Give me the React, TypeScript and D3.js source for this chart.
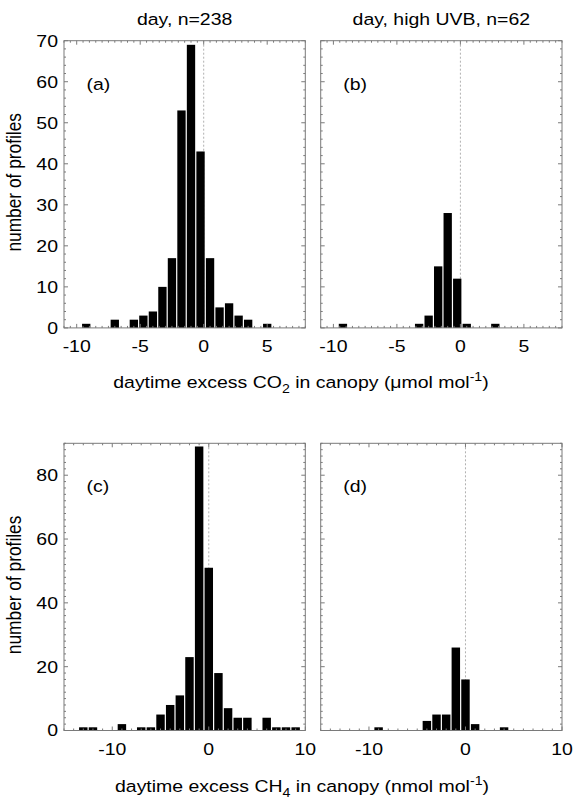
import React from "react";
import * as d3 from "d3";

// ---------- data ----------
const co2BinCenters = [-9.25, -8.5, -7.75, -7.0, -6.25, -5.5, -4.75, -4.0, -3.25, -2.5, -1.75, -1.0, -0.25, 0.5, 1.25, 2.0, 2.75, 3.5, 4.25, 5.0];
const co2BinWidth = 0.75;
const co2CountsDay = [1, 0, 0, 2, 0, 2, 3, 4, 10, 17, 53, 69, 43, 17, 5, 6, 3, 2, 0, 1];
const co2CountsUVB = [1, 0, 0, 0, 0, 0, 0, 0, 1, 3, 15, 28, 12, 1, 0, 0, 1, 0, 0, 0];

const ch4BinCenters = [-13, -12, -11, -10, -9, -8, -7, -6, -5, -4, -3, -2, -1, 0, 1, 2, 3, 4, 5, 6, 7, 8, 9];
const ch4BinWidth = 1;
const ch4CountsDay = [1, 1, 0, 0, 2, 0, 1, 1, 5, 8, 11, 23, 89, 51, 18, 7, 4, 4, 0, 4, 1, 1, 1];
const ch4CountsUVB = [0, 0, 0, 0, 1, 0, 0, 0, 0, 3, 5, 5, 26, 16, 2, 0, 0, 1, 0, 0, 0, 0, 0];

const co2XTicks = [-10, -5, 0, 5];
const co2YTicks = [0, 10, 20, 30, 40, 50, 60, 70];
const ch4XTicks = [-10, 0, 10];
const ch4YTicks = [0, 20, 40, 60, 80];

const titles = ["day, n=238", "day, high UVB, n=62"];
const panelLetters = ["(a)", "(b)", "(c)", "(d)"];

// ---------- layout ----------
const W = 576;
const H = 803;
const FONT = "'Liberation Sans', Arial, Helvetica, sans-serif";
const FS = 16.5;
const SX = 1.18;
const FRAME = "#7a7a7a";
const colX = [64, 320.7];
const colW = 241.3;
const rowY = [40.7, 443.3];
const rowH = 287.2;

type TProps = { x: number; y: number; anchor?: "start" | "middle" | "end"; size?: number; dy?: string; children: React.ReactNode };
function T({ x, y, anchor = "start", size = FS, dy, children }: TProps) {
  return (
    <text transform={`translate(${x},${y}) scale(${SX},1)`} dy={dy} textAnchor={anchor} fontSize={size} fontFamily={FONT} fill="#000">
      {children}
    </text>
  );
}

type PanelProps = {
  x0: number;
  y0: number;
  xDomain: [number, number];
  yDomain: [number, number];
  centers: number[];
  width: number;
  counts: number[];
  xTicks: number[];
  yTicks: number[];
  xMinorStep: number;
  yMinorStep: number;
  showYLabels: boolean;
  letter: string;
};

function Panel(p: PanelProps) {
  const x = d3.scaleLinear().domain(p.xDomain).range([p.x0, p.x0 + colW]);
  const y = d3.scaleLinear().domain(p.yDomain).range([p.y0 + rowH, p.y0]);
  const bottom = p.y0 + rowH;
  const right = p.x0 + colW;

  const xMinor = d3.range(Math.ceil(p.xDomain[0] / p.xMinorStep) * p.xMinorStep, p.xDomain[1] + 1e-9, p.xMinorStep);
  const yMinor = d3.range(p.yDomain[0], p.yDomain[1] + 1e-9, p.yMinorStep);
  const isMajorX = (v: number) => p.xTicks.some((t) => Math.abs(t - v) < 1e-6);
  const isMajorY = (v: number) => p.yTicks.some((t) => Math.abs(t - v) < 1e-6);

  return (
    <g>
      <line x1={x(0)} x2={x(0)} y1={p.y0} y2={bottom} stroke="#b0b0b0" strokeWidth={1} strokeDasharray="2,2" />
      {p.counts.map((c, i) =>
        c > 0 ? (
          <rect
            key={i}
            x={x(p.centers[i] - p.width / 2) + 0.6}
            width={x(p.centers[i] + p.width / 2) - x(p.centers[i] - p.width / 2) - 1.2}
            y={y(c)}
            height={bottom - y(c)}
            fill="#000"
          />
        ) : null
      )}
      <rect x={p.x0} y={p.y0} width={colW} height={rowH} fill="none" stroke={FRAME} strokeWidth={1} />
      {xMinor.map((v, i) => {
        const len = isMajorX(v) ? 4 : 2;
        return (
          <g key={"xt" + i}>
            <line x1={x(v)} x2={x(v)} y1={bottom} y2={bottom - len} stroke={FRAME} />
            <line x1={x(v)} x2={x(v)} y1={p.y0} y2={p.y0 + len} stroke={FRAME} />
          </g>
        );
      })}
      {yMinor.map((v, i) => {
        const len = isMajorY(v) ? 4 : 2;
        return (
          <g key={"yt" + i}>
            <line x1={p.x0} x2={p.x0 + len} y1={y(v)} y2={y(v)} stroke={FRAME} />
            <line x1={right} x2={right - len} y1={y(v)} y2={y(v)} stroke={FRAME} />
          </g>
        );
      })}
      {p.xTicks.map((t) => (
        <T key={"xl" + t} x={x(t)} y={bottom + 24} anchor="middle">
          {t < 0 ? "-" + Math.abs(t) : String(t)}
        </T>
      ))}
      {p.showYLabels &&
        p.yTicks.map((t) => (
          <T key={"yl" + t} x={p.x0 - 6} y={y(t)} dy="0.36em" anchor="end">
            {t}
          </T>
        ))}
      <T x={p.x0 + 22.5} y={p.y0 + 49}>
        {p.letter}
      </T>
    </g>
  );
}

export default function App() {
  return (
    <svg width={W} height={H} style={{ position: "absolute", left: 0, top: 0, background: "#fff" }}>
      <rect x={0} y={0} width={W} height={H} fill="#fff" />
      <T x={colX[0] + colW / 2} y={25} anchor="middle">{titles[0]}</T>
      <T x={colX[1] + colW / 2} y={25} anchor="middle">{titles[1]}</T>

      <Panel x0={colX[0]} y0={rowY[0]} xDomain={[-11, 8]} yDomain={[0, 70]} centers={co2BinCenters} width={co2BinWidth}
        counts={co2CountsDay} xTicks={co2XTicks} yTicks={co2YTicks} xMinorStep={0.5} yMinorStep={2} showYLabels={true} letter={panelLetters[0]} />
      <Panel x0={colX[1]} y0={rowY[0]} xDomain={[-11, 8]} yDomain={[0, 70]} centers={co2BinCenters} width={co2BinWidth}
        counts={co2CountsUVB} xTicks={co2XTicks} yTicks={co2YTicks} xMinorStep={0.5} yMinorStep={2} showYLabels={false} letter={panelLetters[1]} />
      <Panel x0={colX[0]} y0={rowY[1]} xDomain={[-15, 10]} yDomain={[0, 90]} centers={ch4BinCenters} width={ch4BinWidth}
        counts={ch4CountsDay} xTicks={ch4XTicks} yTicks={ch4YTicks} xMinorStep={1} yMinorStep={2} showYLabels={true} letter={panelLetters[2]} />
      <Panel x0={colX[1]} y0={rowY[1]} xDomain={[-15, 10]} yDomain={[0, 90]} centers={ch4BinCenters} width={ch4BinWidth}
        counts={ch4CountsUVB} xTicks={ch4XTicks} yTicks={ch4YTicks} xMinorStep={1} yMinorStep={2} showYLabels={false} letter={panelLetters[3]} />

      {/* y axis titles */}
      <text transform={`translate(21,${rowY[0] + rowH / 2 - 2}) rotate(-90) scale(1.05,${SX})`} textAnchor="middle" fontSize={FS} fontFamily={FONT}>
        number of profiles
      </text>
      <text transform={`translate(21,${rowY[1] + rowH / 2 - 2}) rotate(-90) scale(1.05,${SX})`} textAnchor="middle" fontSize={FS} fontFamily={FONT}>
        number of profiles
      </text>

      {/* x axis titles */}
      <T x={301} y={388} anchor="middle">
        daytime excess CO<tspan fontSize={12} dy={5}>2</tspan>
        <tspan dy={-5}> in canopy (μmol mol</tspan>
        <tspan fontSize={12} dy={-7}>-1</tspan>
        <tspan dy={7}>)</tspan>
      </T>
      <T x={302} y={792} anchor="middle">
        daytime excess CH<tspan fontSize={12} dy={5}>4</tspan>
        <tspan dy={-5}> in canopy (nmol mol</tspan>
        <tspan fontSize={12} dy={-7}>-1</tspan>
        <tspan dy={7}>)</tspan>
      </T>
    </svg>
  );
}
